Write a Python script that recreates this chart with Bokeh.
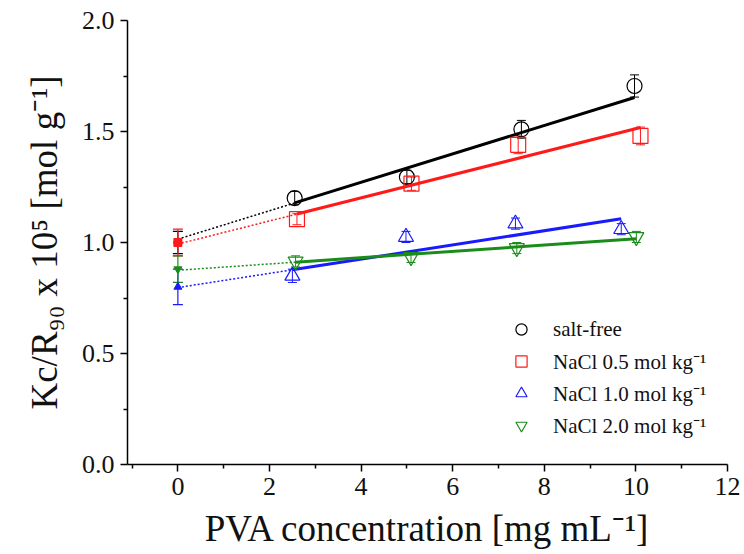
from bokeh.plotting import figure
from bokeh.models import (ColumnDataSource, Whisker, TeeHead, FixedTicker, PrintfTickFormatter,
                          Legend, LegendItem, Range1d)
from bokeh.embed import file_html
from bokeh.resources import INLINE
import numpy as np

# Measured Kc/R90 x 10^5 values vs PVA concentration (mg/mL)
x_free = [2.55, 5.0, 7.5, 9.97]
y_free = [1.20, 1.295, 1.51, 1.705]
e_free = [0.03, 0.03, 0.04, 0.05]

x_05 = [2.6, 5.1, 7.43, 10.1]
y_05 = [1.105, 1.265, 1.44, 1.48]
e_05 = [0.025, 0.03, 0.04, 0.04]

x_10 = [2.5, 4.98, 7.37, 9.68]
y_10 = [0.85, 1.025, 1.085, 1.06]
e_10 = [0.03, 0.025, 0.025, 0.025]

x_20 = [2.57, 5.09, 7.4, 10.01]
y_20 = [0.915, 0.935, 0.975, 1.025]
e_20 = [0.025, 0.025, 0.025, 0.025]

# Extrapolated intercepts at c = 0 with their uncertainties
y0_vals = [1.0, 1.0, 0.80, 0.88]
y0_errs = [0.05, 0.06, 0.08, 0.06]

# Linear fit parameters (intercept, slope)
fit_intercepts = [1.015, 0.993, 0.797, 0.875]
fit_slopes = [0.064, 0.052, 0.032, 0.0142]

labels = ["salt-free", "NaCl 0.5 mol kg\u207b\u00b9", "NaCl 1.0 mol kg\u207b\u00b9", "NaCl 2.0 mol kg\u207b\u00b9"]
colors = ["#000000", "#ff1a1a", "#1a1aff", "#1a8c1a"]
markers = ["circle", "square", "triangle", "inverted_triangle"]
xs_all = [x_free, x_05, x_10, x_20]
ys_all = [y_free, y_05, y_10, y_20]
es_all = [e_free, e_05, e_10, e_20]

FONT = "Liberation Serif"

p = figure(width=744, height=554, output_backend="svg", toolbar_location=None,
           x_range=Range1d(-1.1, 12), y_range=Range1d(0, 2.0),
           min_border_left=127, min_border_right=17, min_border_top=20, min_border_bottom=90)
p.outline_line_color = None
p.grid.visible = False
p.background_fill_color = "white"

legend_items = []
for i in range(4):
    xs = np.array(xs_all[i])
    ys = np.array(ys_all[i])
    es = np.array(es_all[i])
    c = colors[i]
    src = ColumnDataSource(dict(x=xs, y=ys, lo=ys - es, hi=ys + es))
    p.add_layout(Whisker(source=src, base="x", lower="lo", upper="hi", line_color=c, line_width=1,
                         upper_head=TeeHead(size=9, line_color=c, line_width=1),
                         lower_head=TeeHead(size=9, line_color=c, line_width=1)))
    r = p.scatter("x", "y", source=src, marker=markers[i], size=15, fill_color=None,
                  line_color=c, line_width=1.2)
    legend_items.append(LegendItem(label=labels[i], renderers=[r]))

    # intercept point at c = 0
    src0 = ColumnDataSource(dict(x=[0.0], y=[y0_vals[i]], lo=[y0_vals[i] - y0_errs[i]],
                                 hi=[y0_vals[i] + y0_errs[i]]))
    p.add_layout(Whisker(source=src0, base="x", lower="lo", upper="hi", line_color=c, line_width=1.2,
                         upper_head=TeeHead(size=10, line_color=c, line_width=1.2),
                         lower_head=TeeHead(size=10, line_color=c, line_width=1.2)))
    p.scatter("x", "y", source=src0, marker=markers[i], size=8, fill_color=c, line_color=c)

    # dotted extrapolation from 0 to first concentration, solid fit over measured range
    b, m = fit_intercepts[i], fit_slopes[i]
    xd = np.array([0.0, xs.min()])
    p.line(xd, b + m * xd, line_color=c, line_width=1.5, line_dash="2 2")
    xf = np.array([xs.min(), xs.max()])
    p.line(xf, b + m * xf, line_color=c, line_width=3)

legend = Legend(items=legend_items, location=(380, 25), margin=0, padding=0,
                background_fill_alpha=0, border_line_color=None,
                label_text_font=FONT, label_text_font_size="21px", label_text_color="#111111",
                glyph_width=28, glyph_height=28, label_height=28, spacing=4, label_standoff=18)
p.add_layout(legend)

for ax in (p.xaxis[0], p.yaxis[0]):
    ax.axis_line_width = 1.5
    ax.axis_line_color = "black"
    ax.major_tick_line_width = 1.5
    ax.minor_tick_line_width = 1.5
    ax.major_tick_out = 7
    ax.major_tick_in = 0
    ax.minor_tick_out = 4
    ax.minor_tick_in = 0
    ax.major_label_text_font = FONT
    ax.major_label_text_font_size = "26px"
    ax.major_label_text_color = "#111111"
    ax.axis_label_text_font = FONT
    ax.axis_label_text_font_style = "normal"
    ax.axis_label_text_color = "#111111"

p.xaxis.ticker = FixedTicker(ticks=[0, 2, 4, 6, 8, 10, 12], minor_ticks=[-1, 1, 3, 5, 7, 9, 11])
p.yaxis.ticker = FixedTicker(ticks=[0, 0.5, 1.0, 1.5, 2.0], minor_ticks=[0.25, 0.75, 1.25, 1.75])
p.yaxis.formatter = PrintfTickFormatter(format="%.1f")
p.xaxis.major_label_standoff = 6
p.yaxis.major_label_standoff = 6

p.xaxis.axis_label = "PVA concentration [mg mL\u207b\u00b9]"
p.xaxis.axis_label_text_font_size = "37px"
p.xaxis.axis_label_standoff = 10
p.yaxis.axis_label = "Kc/R\u2089\u2080 x 10\u2075 [mol g\u207b\u00b9]"
p.yaxis.axis_label_text_font_size = "37px"
p.yaxis.axis_label_standoff = 14

open("out.html", "w").write(file_html(p, INLINE))
